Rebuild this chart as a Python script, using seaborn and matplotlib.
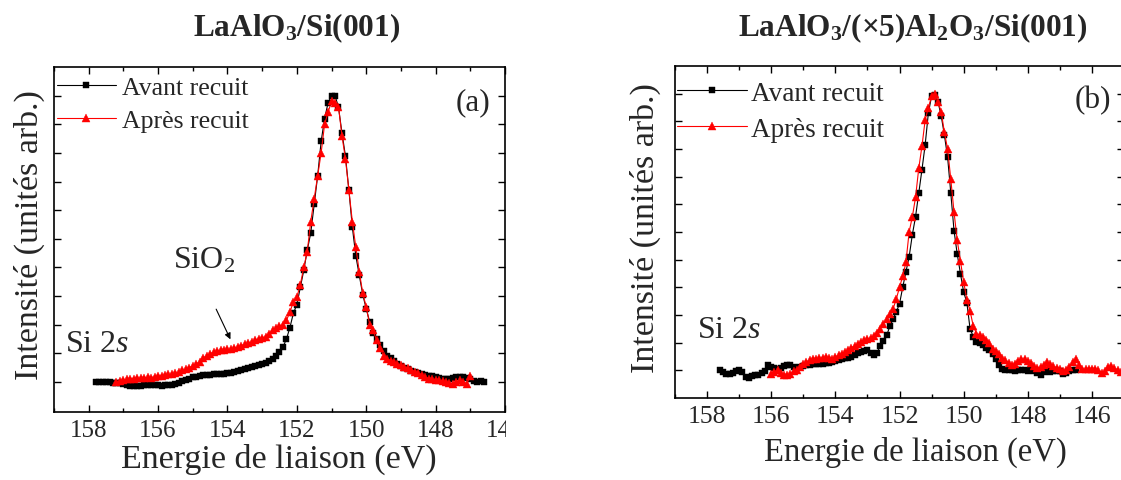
import numpy as np
import pandas as pd
import matplotlib
matplotlib.use("Agg")
import matplotlib.pyplot as plt
import seaborn as sns
from matplotlib.ticker import MultipleLocator
from matplotlib.transforms import Bbox

# Style
sns.set_style("ticks")
plt.rcParams['font.family'] = ['Liberation Serif', 'DejaVu Serif']
plt.rcParams['mathtext.fontset'] = 'custom'
plt.rcParams['mathtext.rm'] = 'Liberation Serif'
plt.rcParams['mathtext.it'] = 'Liberation Serif:italic'
plt.rcParams['mathtext.bf'] = 'Liberation Serif:bold'

# -----------------------------------------------------------------------------
# Data: Si 2s spectra, normalised intensity, 0.1 eV step (energies decreasing)
# -----------------------------------------------------------------------------
STEP = 0.1
LABELS = ['Avant recuit', 'Après recuit']

# (a) LaAlO3/Si(001)
a_avant_start = 157.8
a_avant = [
    0.000, 0.000, 0.000, 0.000, 0.000, -0.002, -0.002, -0.004, -0.006, -0.010,
    -0.013, -0.014, -0.013, -0.014, -0.012, -0.012, -0.011, -0.010, -0.012, -0.013,
    -0.012, -0.012, -0.010, -0.006, -0.002, 0.004, 0.008, 0.012, 0.016, 0.018,
    0.021, 0.023, 0.025, 0.025, 0.026, 0.027, 0.028, 0.029, 0.030, 0.032,
    0.035, 0.038, 0.041, 0.046, 0.050, 0.052, 0.055, 0.059, 0.062, 0.067,
    0.072, 0.080, 0.090, 0.104, 0.122, 0.150, 0.190, 0.240, 0.270, 0.330,
    0.390, 0.460, 0.520, 0.620, 0.720, 0.840, 0.920, 0.975, 1.000, 1.000,
    0.960, 0.870, 0.790, 0.670, 0.540, 0.440, 0.372, 0.305, 0.255, 0.210,
    0.170, 0.150, 0.128, 0.108, 0.092, 0.082, 0.072, 0.064, 0.057, 0.050,
    0.044, 0.039, 0.035, 0.031, 0.028, 0.025, 0.022, 0.019, 0.016, 0.014,
    0.012, 0.010, 0.011, 0.014, 0.017, 0.017, 0.016, 0.014, 0.010, 0.004,
    0.000, 0.002, 0.000,
]
a_apres_start = 157.2
a_apres = [
    0.000, 0.002, 0.006, 0.010, 0.012, 0.012, 0.014, 0.013, 0.014, 0.016,
    0.015, 0.018, 0.021, 0.022, 0.024, 0.026, 0.028, 0.030, 0.034, 0.040,
    0.045, 0.050, 0.056, 0.063, 0.070, 0.082, 0.092, 0.098, 0.104, 0.108,
    0.110, 0.112, 0.114, 0.115, 0.118, 0.122, 0.126, 0.132, 0.136, 0.140,
    0.146, 0.151, 0.154, 0.158, 0.168, 0.182, 0.188, 0.196, 0.200, 0.215,
    0.244, 0.280, 0.296, 0.340, 0.400, 0.455, 0.560, 0.640, 0.720, 0.800,
    0.900, 0.942, 0.980, 0.975, 0.962, 0.860, 0.780, 0.670, 0.560, 0.470,
    0.385, 0.310, 0.262, 0.200, 0.180, 0.145, 0.118, 0.092, 0.080, 0.074,
    0.068, 0.062, 0.058, 0.053, 0.048, 0.043, 0.036, 0.030, 0.024, 0.016,
    0.012, 0.010, 0.008, 0.006, 0.004, 0.000, -0.004, -0.006, 0.000, 0.006,
    0.000, -0.006, 0.022,
]

# (b) LaAlO3/(x5)Al2O3/Si(001)
b_avant_start = 157.6
b_avant = [
    0.000, -0.006, -0.012, -0.012, -0.008, -0.004, 0.003, -0.006, -0.024, -0.026,
    -0.022, -0.018, -0.016, -0.010, -0.004, 0.018, 0.012, 0.008, 0.006, 0.010,
    0.016, 0.021, 0.018, 0.012, 0.010, 0.012, 0.016, 0.018, 0.020, 0.022,
    0.024, 0.023, 0.024, 0.025, 0.027, 0.030, 0.034, 0.037, 0.040, 0.043,
    0.046, 0.050, 0.056, 0.062, 0.066, 0.070, 0.074, 0.064, 0.054, 0.064,
    0.088, 0.106, 0.126, 0.160, 0.185, 0.212, 0.240, 0.300, 0.356, 0.410,
    0.490, 0.555, 0.640, 0.725, 0.815, 0.930, 0.990, 0.995, 0.970, 0.920,
    0.850, 0.770, 0.640, 0.505, 0.420, 0.350, 0.283, 0.245, 0.150, 0.122,
    0.104, 0.098, 0.090, 0.082, 0.072, 0.060, 0.040, 0.018, 0.006, 0.002,
    0.000, 0.002, -0.004, 0.000, 0.002, 0.000, -0.002, 0.000, -0.004, -0.008,
    -0.018, -0.006, -0.004, -0.006, -0.004, -0.002, -0.004, -0.012, -0.010, -0.004,
    0.003, 0.000,
]
b_apres_start = 156.0
b_apres = [
    -0.012, -0.006, 0.000, -0.008, -0.016, -0.018, -0.012, -0.004, 0.002, 0.012,
    0.024, 0.030, 0.036, 0.042, 0.042, 0.044, 0.046, 0.048, 0.046, 0.042,
    0.048, 0.054, 0.060, 0.066, 0.074, 0.082, 0.088, 0.095, 0.103, 0.108,
    0.112, 0.118, 0.124, 0.136, 0.150, 0.168, 0.187, 0.205, 0.222, 0.258,
    0.300, 0.340, 0.390, 0.500, 0.555, 0.625, 0.730, 0.810, 0.905, 0.950,
    0.990, 0.998, 0.970, 0.935, 0.860, 0.800, 0.690, 0.572, 0.470, 0.395,
    0.320, 0.255, 0.215, 0.160, 0.133, 0.126, 0.122, 0.108, 0.098, 0.076,
    0.070, 0.060, 0.045, 0.036, 0.028, 0.020, 0.022, 0.034, 0.042, 0.040,
    0.032, 0.026, 0.014, 0.008, 0.012, 0.020, 0.030, 0.024, 0.014, 0.009,
    0.004, -0.004, 0.000, 0.012, 0.030, 0.042, 0.020, 0.006, 0.004, 0.006,
    0.004, 0.006, 0.002, -0.008, -0.004, 0.012, 0.016, 0.008, 0.000, -0.006,
]

x_ticks = [158, 156, 154, 152, 150, 148, 146]
y_ticks = [0.0, 0.1, 0.2, 0.3, 0.4, 0.5, 0.6, 0.7, 0.8, 0.9, 1.0]


def to_frame(start, values, label):
    energy = np.round(start - STEP * np.arange(len(values)), 2)
    return pd.DataFrame({'energie': energy, 'intensite': values, 'serie': label})


def draw_panel(ax, avant, apres, xlim, ylim, tick_fs):
    sns.lineplot(data=avant, x='energie', y='intensite', ax=ax, color='black',
                 lw=0.8, marker='s', markersize=4.0, mec='black', mew=0.3,
                 label=LABELS[0])
    sns.lineplot(data=apres, x='energie', y='intensite', ax=ax, color='#ff0000',
                 lw=0.8, marker='^', markersize=5.2, mec='#ff0000', mew=0.3,
                 label=LABELS[1])
    ax.set_xlim(*xlim)
    ax.set_ylim(*ylim)
    ax.set_xticks(x_ticks)
    ax.set_xticklabels([str(t) for t in x_ticks])
    ax.xaxis.set_minor_locator(MultipleLocator(1))
    ax.set_yticks(y_ticks)
    ax.set_yticklabels([])
    ax.tick_params(which='both', direction='in', top=True, right=True,
                   width=1.0, color='black')
    ax.tick_params(which='major', length=5, labelsize=tick_fs, pad=5)
    ax.tick_params(which='minor', length=3)
    for s in ax.spines.values():
        s.set_linewidth(1.2)
        s.set_color('black')
    ax.grid(False)


fig = plt.figure(figsize=(11.21, 4.81), dpi=100)
W, H = 1121.0, 481.0
ax_a = fig.add_axes([54 / W, 1 - 413 / H, 451 / W, 345 / H])
ax_b = fig.add_axes([675 / W, 1 - 399 / H, 449 / W, 332 / H])

# ---- panel (a) ----
draw_panel(ax_a, to_frame(a_avant_start, a_avant, LABELS[0]),
           to_frame(a_apres_start, a_apres, LABELS[1]),
           (159, 146), (-0.105, 1.1), 18)
ax_a.legend(loc='upper left', bbox_to_anchor=(0.006, 0.975), frameon=False,
            fontsize=18.5, handlelength=2.3, handletextpad=0.25,
            labelspacing=0.42, borderpad=0, borderaxespad=0)
ax_a.set_xlabel('Energie de liaison (eV)', fontsize=24.5, va='center')
ax_a.xaxis.set_label_coords(0.499, -0.135)
ax_a.set_ylabel('Intensité (unités arb.)', fontsize=24.5, va='center')
ax_a.yaxis.set_label_coords(-0.055, 0.516)
ax_a.text(0.929, 0.878, '(a)', transform=ax_a.transAxes, fontsize=22.5,
          ha='center', va='baseline')
ax_a.text(0.024, 0.178, r'Si 2$\mathit{s}$', transform=ax_a.transAxes,
          fontsize=23, ha='left', va='baseline')
ax_a.text(0.264, 0.419, r'SiO$_2$', transform=ax_a.transAxes,
          fontsize=23, ha='left', va='baseline')
ax_a.annotate('', xy=(153.88, 0.14), xytext=(154.36, 0.263),
              arrowprops=dict(arrowstyle='-|>', color='black', lw=0.8,
                              mutation_scale=9))

# the last tick label of panel (a) is cut at the panel border in the original
clip = Bbox.from_extents(0, 0, 506, H)
for tick in ax_a.xaxis.get_major_ticks():
    tick.label1.set_clip_on(True)
    tick.label1.set_clip_box(clip)

# ---- panel (b) ----
draw_panel(ax_b, to_frame(b_avant_start, b_avant, LABELS[0]),
           to_frame(b_apres_start, b_apres, LABELS[1]),
           (159, 145), (-0.1, 1.1), 18.5)
ax_b.legend(loc='upper left', bbox_to_anchor=(0.004, 0.955), frameon=False,
            fontsize=19.5, handlelength=2.6, handletextpad=0.15,
            labelspacing=0.4, borderpad=0, borderaxespad=0)
ax_b.set_xlabel('Energie de liaison (eV)', fontsize=23.5, va='center')
ax_b.xaxis.set_label_coords(0.535, -0.160)
ax_b.set_ylabel('Intensité (unités arb.)', fontsize=24.5, va='center')
ax_b.yaxis.set_label_coords(-0.067, 0.515)
ax_b.text(0.93, 0.876, '(b)', transform=ax_b.transAxes, fontsize=22.5,
          ha='center', va='baseline')
ax_b.text(0.049, 0.183, r'Si 2$\mathit{s}$', transform=ax_b.transAxes,
          fontsize=23, ha='left', va='baseline')

# ---- titles ----
fig.text(297 / W, 1 - 28 / H, r'LaAlO$_\mathbf{3}$/Si(001)',
         fontsize=22.5, fontweight='bold', ha='center', va='center')
fig.text(913 / W, 1 - 28 / H, r'LaAlO$_\mathbf{3}$/(×5)Al$_\mathbf{2}$O$_\mathbf{3}$/Si(001)',
         fontsize=22.5, fontweight='bold', ha='center', va='center')

fig.savefig('out.png', dpi=100)
